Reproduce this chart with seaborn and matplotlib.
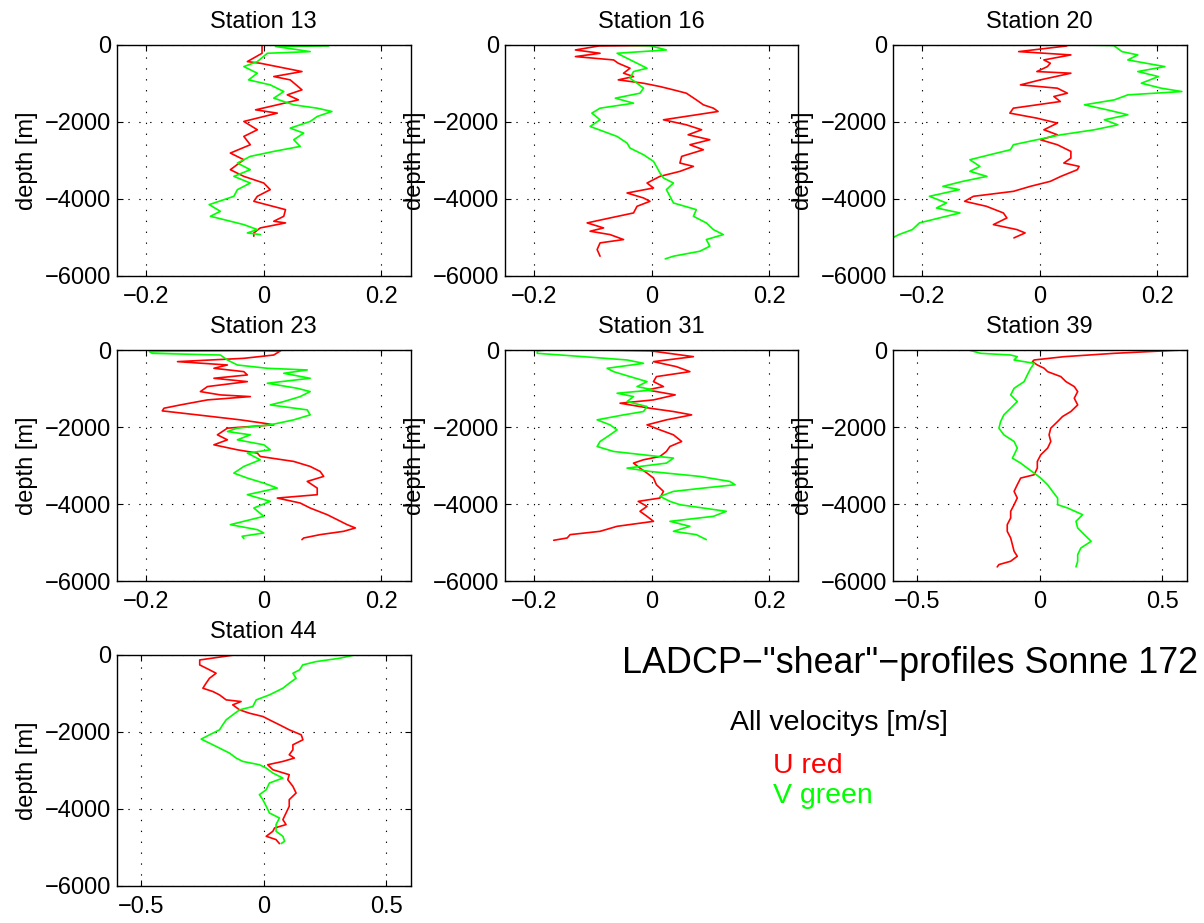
import matplotlib
matplotlib.use("Agg")
import matplotlib.pyplot as plt
import seaborn as sns
from matplotlib.ticker import FuncFormatter

# ---- data (velocity in m/s, depth in m) ----
ST13_U_DEPTH = [0, 216, 432, 475, 691, 821, 907, 1166, 1296, 1426, 1555, 1685, 1771, 1987, 2203, 2376,
                2592, 2808, 2981, 3240, 3413, 3586, 3758, 3931, 4061, 4277, 4450, 4579, 4622, 4752, 4882, 4968]
ST13_U = [-0.003, -0.003, -0.028, -0.006, 0.065, 0.017, 0.045, 0.065, 0.040, 0.059, 0.023, -0.014, 0.023,
          -0.034, -0.011, -0.034, -0.023, -0.057, -0.034, -0.057, -0.034, 0.0, 0.011, -0.011, -0.017, 0.037,
          0.034, 0.017, 0.037, -0.006, -0.017, -0.017]
ST13_V_DEPTH = [0, 15, 40, 173, 216, 432, 562, 734, 907, 1037, 1210, 1382, 1555, 1642, 1728, 1858, 1987,
                2160, 2290, 2462, 2635, 2765, 2894, 3067, 3240, 3413, 3586, 3758, 3931, 4147, 4320, 4450,
                4536, 4666, 4795, 4882, 4925]
ST13_V = [-0.057, 0.111, 0.020, 0.079, 0.006, -0.011, -0.034, -0.011, -0.026, 0.011, 0.034, 0.017, 0.051,
          0.091, 0.116, 0.091, 0.079, 0.045, 0.068, 0.051, 0.062, 0.017, -0.023, -0.045, -0.023, -0.051,
          -0.023, -0.045, -0.051, -0.093, -0.074, -0.091, -0.068, -0.034, -0.011, -0.028, -0.006]

ST16_U_DEPTH = [0, 26, 130, 216, 302, 389, 475, 605, 734, 821, 907, 994, 1080, 1166, 1253, 1426, 1555,
                1642, 1728, 1814, 1944, 2074, 2203, 2333, 2462, 2592, 2722, 2894, 3067, 3154, 3283, 3413,
                3586, 3715, 3845, 3974, 4061, 4190, 4363, 4493, 4622, 4752, 4838, 4925, 5054, 5141, 5314, 5486]
ST16_U = [0.068, -0.090, -0.130, -0.088, -0.130, -0.065, -0.057, -0.037, -0.048, -0.031, -0.057, -0.014,
          0.014, 0.037, 0.059, 0.076, 0.088, 0.105, 0.113, 0.076, 0.020, 0.059, 0.085, 0.062, 0.099, 0.065,
          0.088, 0.051, 0.048, 0.071, 0.048, 0.014, -0.008, 0.003, -0.042, -0.014, -0.003, -0.025, -0.031,
          -0.071, -0.110, -0.082, -0.105, -0.071, -0.048, -0.088, -0.093, -0.088]
ST16_V_DEPTH = [0, 20, 130, 216, 346, 475, 605, 691, 864, 994, 1123, 1253, 1382, 1512, 1642, 1771, 1944,
                2117, 2246, 2376, 2549, 2678, 2851, 3024, 3154, 3326, 3456, 3586, 3758, 3931, 4104, 4277,
                4450, 4622, 4795, 4925, 5054, 5227, 5357, 5486, 5556]
ST16_V = [-0.065, -0.003, 0.025, -0.059, -0.042, -0.025, -0.008, -0.031, -0.037, -0.025, -0.014, -0.020,
          -0.062, -0.031, -0.088, -0.102, -0.088, -0.105, -0.082, -0.059, -0.042, -0.037, -0.014, 0.003,
          0.008, 0.014, 0.020, 0.037, 0.025, 0.031, 0.037, 0.076, 0.071, 0.093, 0.105, 0.122, 0.093, 0.099,
          0.082, 0.037, 0.023]

ST20_U_DEPTH = [0, 26, 173, 259, 389, 475, 562, 691, 734, 907, 1037, 1123, 1253, 1339, 1469, 1642, 1771,
                1901, 2030, 2203, 2333, 2462, 2592, 2765, 2938, 3067, 3154, 3240, 3413, 3542, 3672, 3802,
                3931, 4061, 4190, 4363, 4493, 4666, 4795, 4882, 5011]
ST20_U = [0.034, 0.046, -0.036, 0.053, 0.007, 0.018, 0.013, -0.005, 0.053, 0.001, -0.033, 0.030, 0.047,
          0.024, 0.035, -0.045, -0.051, -0.005, 0.030, 0.007, 0.030, 0.001, 0.030, 0.053, 0.053, 0.041,
          0.067, 0.064, 0.036, 0.018, -0.016, -0.045, -0.113, -0.128, -0.091, -0.062, -0.056, -0.079,
          -0.039, -0.025, -0.044]
ST20_V_DEPTH = [0, 15, 173, 259, 389, 562, 691, 821, 994, 1123, 1210, 1296, 1426, 1555, 1685, 1814, 1944,
                2074, 2203, 2333, 2462, 2592, 2722, 2851, 2981, 3154, 3283, 3413, 3542, 3672, 3758, 3931,
                4104, 4234, 4363, 4493, 4622, 4795, 4925, 5011]
ST20_V = [0.058, 0.126, 0.140, 0.167, 0.150, 0.213, 0.167, 0.202, 0.173, 0.207, 0.242, 0.150, 0.127,
          0.076, 0.115, 0.150, 0.110, 0.133, 0.093, 0.036, -0.005, -0.045, -0.050, -0.085, -0.119, -0.102,
          -0.119, -0.090, -0.131, -0.165, -0.137, -0.188, -0.159, -0.176, -0.136, -0.171, -0.205, -0.217,
          -0.240, -0.251]

ST23_U_DEPTH = [0, 26, 130, 216, 302, 389, 475, 562, 648, 734, 821, 950, 1080, 1166, 1210, 1296, 1426,
                1512, 1581, 1685, 1814, 1901, 1944, 2030, 2203, 2333, 2462, 2592, 2678, 2765, 2894, 3024,
                3154, 3283, 3413, 3586, 3758, 3845, 3974, 4104, 4277, 4406, 4536, 4622, 4709, 4795, 4882, 4925]
ST23_U = [-0.057, 0.028, 0.017, -0.034, -0.147, -0.062, -0.085, -0.034, -0.028, -0.085, -0.028, -0.096,
          -0.108, -0.074, -0.023, -0.096, -0.142, -0.170, -0.173, -0.113, -0.040, 0.0, 0.017, -0.062,
          -0.079, -0.062, -0.085, -0.045, -0.011, -0.006, 0.051, 0.079, 0.096, 0.102, 0.074, 0.091, 0.091,
          0.023, 0.062, 0.079, 0.108, 0.125, 0.142, 0.156, 0.136, 0.096, 0.068, 0.065]
ST23_V_DEPTH = [0, 40, 86, 130, 259, 389, 475, 518, 605, 734, 864, 994, 1080, 1210, 1339, 1426, 1555,
                1685, 1814, 1944, 2030, 2117, 2203, 2333, 2462, 2592, 2678, 2851, 3024, 3197, 3326, 3456,
                3586, 3758, 3931, 4104, 4320, 4536, 4666, 4752, 4838, 4899]
ST23_V = [0.091, -0.195, -0.190, -0.074, -0.062, -0.045, 0.006, 0.074, 0.034, 0.079, 0.006, 0.057, 0.079,
          0.062, 0.034, 0.011, 0.074, 0.079, 0.051, 0.011, -0.045, -0.062, -0.023, -0.045, 0.0, 0.011,
          -0.028, -0.006, -0.034, -0.051, -0.028, 0.0, 0.023, -0.028, 0.011, -0.017, 0.0, -0.057, -0.011,
          0.0, -0.037, -0.034]

ST31_U_DEPTH = [0, 20, 173, 302, 432, 562, 691, 821, 950, 1037, 1166, 1296, 1382, 1512, 1598, 1685, 1814,
                1944, 2074, 2203, 2376, 2506, 2635, 2765, 2851, 2938, 3067, 3197, 3326, 3499, 3672, 3845,
                3931, 4061, 4190, 4320, 4450, 4579, 4709, 4795, 4882, 4942]
ST31_U = [-0.099, -0.003, 0.071, 0.003, 0.042, 0.065, 0.008, 0.003, 0.020, -0.008, 0.040, 0.003, -0.054,
          -0.003, 0.037, 0.068, 0.025, -0.008, 0.014, 0.037, 0.051, 0.031, 0.025, 0.014, -0.014, -0.031,
          -0.020, -0.008, 0.003, 0.008, 0.020, 0.014, -0.023, -0.008, -0.020, -0.008, 0.003, -0.059, -0.088,
          -0.139, -0.144, -0.167]
ST31_V_DEPTH = [0, 26, 86, 173, 259, 346, 475, 562, 691, 821, 950, 1037, 1123, 1210, 1339, 1469, 1598,
                1685, 1814, 1944, 2074, 2203, 2376, 2506, 2635, 2722, 2808, 2938, 3067, 3154, 3283, 3413,
                3499, 3586, 3672, 3802, 3931, 4018, 4104, 4190, 4320, 4450, 4579, 4709, 4795, 4925]
ST31_V = [-0.178, -0.195, -0.195, -0.116, -0.042, -0.014, -0.076, -0.065, -0.037, -0.008, -0.025, 0.003,
          -0.059, -0.031, -0.042, -0.008, -0.014, -0.048, -0.093, -0.071, -0.059, -0.071, -0.088, -0.093,
          -0.065, -0.014, 0.037, 0.025, -0.042, -0.003, 0.082, 0.133, 0.142, 0.088, 0.037, 0.014, 0.031,
          0.048, 0.088, 0.127, 0.105, 0.031, 0.065, 0.037, 0.076, 0.093]

ST39_U_DEPTH = [0, 86, 173, 259, 302, 389, 475, 562, 691, 821, 950, 1080, 1253, 1426, 1598, 1728, 1858,
                2030, 2203, 2376, 2549, 2722, 2894, 3067, 3240, 3326, 3499, 3672, 3845, 4018, 4190, 4363,
                4536, 4709, 4882, 5054, 5227, 5357, 5486, 5573, 5633]
ST39_U = [0.580, 0.305, 0.100, -0.023, -0.030, -0.010, 0.018, 0.032, 0.086, 0.107, 0.141, 0.155, 0.141,
          0.155, 0.127, 0.093, 0.073, 0.045, 0.038, 0.045, 0.032, 0.004, -0.010, -0.010, -0.023, -0.078,
          -0.092, -0.105, -0.092, -0.105, -0.119, -0.119, -0.133, -0.133, -0.119, -0.112, -0.105, -0.092,
          -0.119, -0.167, -0.174]
ST39_V_DEPTH = [0, 86, 130, 173, 259, 346, 475, 648, 821, 994, 1166, 1339, 1512, 1685, 1858, 2030, 2203,
                2376, 2549, 2722, 2808, 2938, 3067, 3197, 3326, 3499, 3672, 3845, 4018, 4104, 4277, 4450,
                4622, 4795, 4968, 5141, 5314, 5486, 5633]
ST39_V = [-0.290, -0.242, -0.119, -0.092, -0.105, -0.023, -0.037, -0.051, -0.064, -0.105, -0.119, -0.092,
          -0.119, -0.147, -0.160, -0.167, -0.147, -0.105, -0.092, -0.105, -0.112, -0.078, -0.051, -0.023,
          0.004, 0.032, 0.052, 0.073, 0.073, 0.114, 0.175, 0.148, 0.155, 0.182, 0.210, 0.168, 0.155, 0.155,
          0.148]

ST44_U_DEPTH = [0, 130, 259, 389, 475, 605, 734, 864, 950, 1037, 1166, 1210, 1296, 1426, 1512, 1598, 1685,
                1814, 1944, 2074, 2203, 2333, 2462, 2592, 2678, 2765, 2851, 2981, 3110, 3240, 3413, 3586,
                3758, 3931, 4104, 4277, 4406, 4493, 4579, 4709, 4795, 4899]
ST44_U = [-0.120, -0.262, -0.262, -0.221, -0.195, -0.222, -0.236, -0.249, -0.208, -0.181, -0.154, -0.093,
          -0.127, -0.099, -0.059, -0.004, 0.023, 0.064, 0.104, 0.153, 0.160, 0.119, 0.119, 0.104, 0.125,
          0.078, 0.016, 0.037, 0.104, 0.098, 0.119, 0.132, 0.104, 0.104, 0.091, 0.078, 0.091, 0.044, 0.037,
          0.010, 0.050, 0.064]
ST44_V_DEPTH = [0, 86, 173, 259, 389, 475, 605, 734, 864, 1037, 1166, 1339, 1426, 1555, 1685, 1814, 1944,
                2074, 2186, 2290, 2419, 2549, 2678, 2765, 2851, 2938, 3067, 3197, 3326, 3499, 3629, 3758,
                3931, 4104, 4234, 4406, 4579, 4709, 4838, 4899]
ST44_V = [0.372, 0.309, 0.213, 0.159, 0.146, 0.119, 0.132, 0.104, 0.078, 0.023, -0.031, -0.045, -0.099,
          -0.127, -0.154, -0.168, -0.181, -0.222, -0.256, -0.222, -0.181, -0.140, -0.113, -0.086, -0.018,
          0.010, 0.037, 0.078, 0.023, 0.010, -0.018, -0.004, 0.010, 0.023, 0.064, 0.050, 0.050, 0.078,
          0.085, 0.071]

STATION_NAMES = ["Station 13", "Station 16", "Station 20", "Station 23", "Station 31", "Station 39",
                 "Station 44"]
STATION_XLIM = [0.25, 0.25, 0.25, 0.25, 0.25, 0.6, 0.6]
STATION_XTICKS = [[-0.2, 0, 0.2]] * 5 + [[-0.5, 0, 0.5]] * 2
DEPTH_TICKS = [0, -2000, -4000, -6000]

stations = [
    (ST13_U_DEPTH, ST13_U, ST13_V_DEPTH, ST13_V),
    (ST16_U_DEPTH, ST16_U, ST16_V_DEPTH, ST16_V),
    (ST20_U_DEPTH, ST20_U, ST20_V_DEPTH, ST20_V),
    (ST23_U_DEPTH, ST23_U, ST23_V_DEPTH, ST23_V),
    (ST31_U_DEPTH, ST31_U, ST31_V_DEPTH, ST31_V),
    (ST39_U_DEPTH, ST39_U, ST39_V_DEPTH, ST39_V),
    (ST44_U_DEPTH, ST44_U, ST44_V_DEPTH, ST44_V),
]

sns.set_style("ticks", {
    "xtick.direction": "in",
    "ytick.direction": "in",
    "xtick.top": True,
    "ytick.right": True,
})
plt.rcParams["font.family"] = ["Liberation Sans", "DejaVu Sans"]
plt.rcParams["axes.edgecolor"] = "black"
plt.rcParams["axes.linewidth"] = 1.0
plt.rcParams["text.color"] = "black"
plt.rcParams["axes.labelcolor"] = "black"
plt.rcParams["axes.titlecolor"] = "black"
plt.rcParams["xtick.color"] = "black"
plt.rcParams["ytick.color"] = "black"

fig = plt.figure(figsize=(12.04, 9.23), dpi=100)

# axes boxes in figure fractions (left, bottom, width, height)
col_left = [0.0972, 0.4194, 0.7417]
col_width = 0.2438
row_bottom = [0.7010, 0.3705, 0.0401]
row_height = 0.2503


def tick_fmt(v, pos):
    return f"{v:g}".replace("-", "\u2212")


for i, (name, (ud, u, vd, v)) in enumerate(zip(STATION_NAMES, stations)):
    row, col = divmod(i, 3)
    ax = fig.add_axes([col_left[col], row_bottom[row], col_width, row_height])
    ax.set_axisbelow(True)
    ax.grid(True, color="black", linewidth=0.8, linestyle=(0, (1.2, 8.6)))

    sns.lineplot(x=u, y=[-d for d in ud], sort=False, estimator=None, color="#ff0000",
                 linewidth=1.2, ax=ax)
    sns.lineplot(x=v, y=[-d for d in vd], sort=False, estimator=None, color="#00ff00",
                 linewidth=1.2, ax=ax)

    lim = STATION_XLIM[i]
    ax.set_xlim(-lim, lim)
    ax.set_ylim(-6000, 0)
    ax.set_xticks(STATION_XTICKS[i])
    ax.set_yticks(DEPTH_TICKS)
    ax.xaxis.set_major_formatter(FuncFormatter(tick_fmt))
    ax.yaxis.set_major_formatter(FuncFormatter(tick_fmt))
    ax.tick_params(axis="both", labelsize=17, length=4, width=0.8, color="black",
                   labelcolor="black")
    ax.tick_params(axis="x", pad=7)
    ax.tick_params(axis="y", pad=4)
    for side in ax.spines.values():
        side.set_visible(True)
        side.set_color("black")
    ax.set_title(name, fontsize=17, pad=12)
    ax.set_ylabel("depth [m]", fontsize=17, labelpad=5)
    ax.set_xlabel("")

fig.text(0.5166, 0.2709, "LADCP\u2212\"shear\"\u2212profiles Sonne 172", fontsize=25.8,
         va="baseline", ha="left")
fig.text(0.6063, 0.2091, "All velocitys [m/s]", fontsize=20.5, va="baseline", ha="left")
fig.text(0.642, 0.1625, "U red", fontsize=20.5, color="#ff0000", va="baseline", ha="left")
fig.text(0.642, 0.130, "V green", fontsize=20.5, color="#00ff00", va="baseline", ha="left")

fig.savefig("out.png", dpi=100)
